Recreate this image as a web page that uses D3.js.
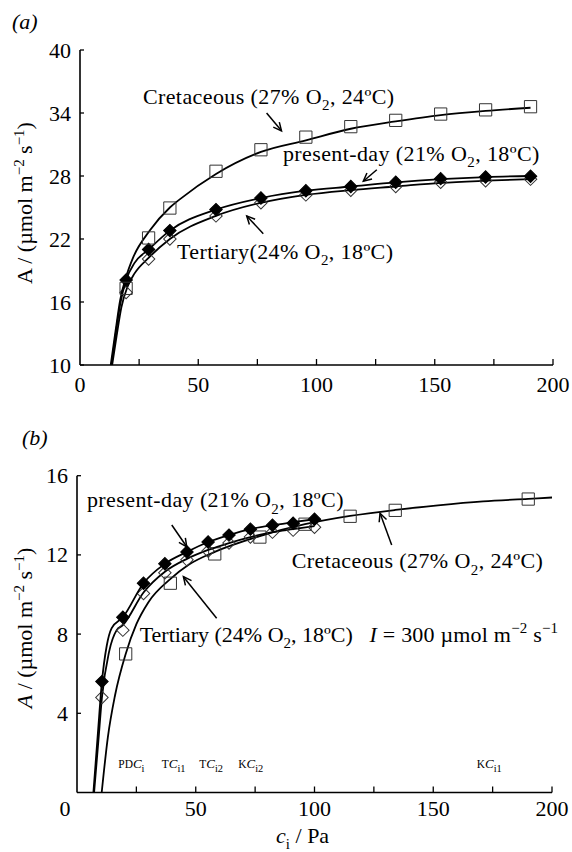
<!DOCTYPE html>
<html>
<head>
<meta charset="utf-8">
<script src="https://cdn.jsdelivr.net/npm/d3@7"></script>
<style>
  html, body { margin: 0; padding: 0; background: #fff; }
  svg { display: block; font-family: "Liberation Serif", "Times New Roman", serif; }
</style>
</head>
<body>
<svg id="chart" width="572" height="852"></svg>
<script>
/* ── data ─────────────────────────────────────────────────────────── */
// panel (a): A vs ci, I saturating
const xPtsA        = [19.5, 29, 38, 57.5, 76.5, 95.5, 114.5, 133.5, 152.5, 171.5, 190.5];
const cretPtsA     = [17.3, 22.1, 24.95, 28.45, 30.5, 31.7, 32.7, 33.3, 33.9, 34.3, 34.6];
const presentPtsA  = [18.1, 21.0, 22.8, 24.8, 25.9, 26.6, 27.0, 27.4, 27.75, 27.9, 27.97];
const tertPtsA     = [16.9, 20.1, 22.0, 24.2, 25.45, 26.2, 26.65, 27.0, 27.4, 27.55, 27.7];

// fitted model curves, panel (a)  [ci, A]
const cretCurveA = [[13.0,10],[15,13.2],[17,16.2],[19.5,18.4],[22.4,20.2],[29.5,22.8],[38,25.0],[42.3,25.8],
  [57.5,28.2],[76.5,30.3],[95.5,31.4],[114.5,32.5],[133.5,33.2],[152.5,33.8],[171.5,34.2],[190.5,34.5]];
const presentCurveA = [[13.3,10],[15,12.8],[17,15.8],[19.5,18.1],[23,19.7],[29,21.0],[38,22.8],[57.5,24.8],
  [76.5,25.9],[95.5,26.6],[114.5,27.0],[133.5,27.4],[152.5,27.7],[171.5,27.9],[190.5,28.0]];
const tertCurveA = [[13.6,10],[15.5,12.8],[17.5,15.5],[20,17.4],[23,18.7],[29,20.2],[38,22.0],[57.5,24.2],
  [76.5,25.45],[95.5,26.2],[114.5,26.65],[133.5,27.0],[152.5,27.35],[171.5,27.55],[190.5,27.7]];

// panel (b): I = 300
const xPtsB       = [10.5, 19.3, 28, 37, 46.3, 55.2, 64, 73, 82.3, 91, 100];
const presentPtsB = [5.6, 8.85, 10.57, 11.55, 12.15, 12.65, 13.0, 13.3, 13.5, 13.6, 13.8];
const tertPtsB    = [4.8, 8.2, 10.05, 11.1, 11.75, 12.2, 12.6, 12.9, 13.15, 13.25, 13.4];
const xCretB      = [20.5, 39.3, 58, 77, 96, 115, 134, 190];
const cretPtsB    = [7.0, 10.57, 12.05, 12.9, 13.55, 13.95, 14.25, 14.82];

const presentCurveB = [[6.9,0],[8.8,3],[10.5,5.6],[12.5,7.4],[14.6,8.3],[19.3,8.85],[28,10.57],[37,11.55],
  [46.3,12.15],[55.2,12.65],[64,13.0],[73,13.3],[82.3,13.5],[91,13.65],[100,13.8]];
const tertCurveB = [[7.2,0],[9,2.6],[10.5,4.8],[13.5,7.1],[16.7,8.2],[19.3,8.45],[28,10.1],[37,11.15],
  [46.3,11.8],[55.2,12.25],[64,12.6],[73,12.9],[82.3,13.15],[91,13.3],[100,13.45]];
const cretCurveB = [[10.4,0],[13,2.8],[16,4.9],[20.5,7.0],[25,8.5],[30,9.6],[39.5,10.8],[47,11.5],[58,12.15],
  [77,12.95],[96,13.55],[115,13.97],[134,14.27],[152,14.5],[171,14.7],[190,14.83],[200,14.9]];

const xTicks      = [0, 50, 100, 150, 200];
const xMinorTicks = [25, 50, 75, 100, 125, 150, 175, 200];
const yTicksA     = [10, 16, 22, 28, 34, 40];
const yTicksB     = [4, 8, 12, 16];

/* ── helpers ─────────────────────────────────────────────────────── */
const svg = d3.select('#chart');
const FS = 22;

// text built from parts: {t, sub, sup, it, sc}
function rich(g, x, y, parts, size, anchor, ls) {
  const t = g.append('text').attr('x', x).attr('y', y)
    .attr('font-size', size).attr('fill', '#000')
    .attr('letter-spacing', ls || 0)
    .attr('text-anchor', anchor || 'start');
  let shift = 0;
  parts.forEach(p => {
    const s = p.sub ? size * 0.28 : p.sup ? -size * 0.38 : 0;
    const ts = t.append('tspan').attr('dy', s - shift).text(p.t);
    if (p.sub || p.sup) ts.attr('font-size', size * (p.sub && p.small ? 0.8 : 0.68));
    if (p.sc) ts.attr('font-size', size * 0.88);
    if (p.it) ts.attr('font-style', 'italic');
    shift = s;
  });
  return t;
}

function arrow(g, x1, y1, x2, y2) {
  g.append('line').attr('x1', x1).attr('y1', y1).attr('x2', x2).attr('y2', y2)
    .attr('stroke', '#000').attr('stroke-width', 1.5);
  const a = Math.atan2(y2 - y1, x2 - x1), L = 9, w = 0.45;
  g.append('path')
    .attr('d', `M${x2 - L * Math.cos(a - w)},${y2 - L * Math.sin(a - w)}L${x2},${y2}L${x2 - L * Math.cos(a + w)},${y2 - L * Math.sin(a + w)}`)
    .attr('fill', 'none').attr('stroke', '#000').attr('stroke-width', 1.5);
}

function axes(g, x, y, yTicks, xLabelDy, zeroShift) {
  const [x0] = x.range(), y0 = y.range()[0];
  g.append('line').attr('x1', x0).attr('x2', x.range()[1]).attr('y1', y0).attr('y2', y0)
    .attr('stroke', '#000').attr('stroke-width', 1.6);
  g.append('line').attr('x1', x0).attr('x2', x0).attr('y1', y0).attr('y2', y.range()[1])
    .attr('stroke', '#000').attr('stroke-width', 1.6);
  g.selectAll('.xt').data(xMinorTicks).join('line')
    .attr('x1', d => x(d)).attr('x2', d => x(d)).attr('y1', y0).attr('y2', y0 - 6)
    .attr('stroke', '#000').attr('stroke-width', 1.3);
  g.selectAll('.yt').data(yTicks).join('line')
    .attr('x1', x0).attr('x2', x0 + 4).attr('y1', d => y(d)).attr('y2', d => y(d))
    .attr('stroke', '#000').attr('stroke-width', 1.3);
  g.selectAll('.xl').data(xTicks).join('text')
    .attr('x', d => d === 0 ? x(d) - zeroShift : x(d)).attr('y', y0 + xLabelDy)
    .attr('text-anchor', 'middle').attr('font-size', FS).text(d => d);
  g.selectAll('.yl').data(yTicks).join('text')
    .attr('x', x0 - 9).attr('y', d => y(d) + 7.5)
    .attr('text-anchor', 'end').attr('font-size', FS).text(d => d);
}

function series(g, x, y, curve, xs, ys, kind) {
  const line = d3.line().x(d => x(d[0])).y(d => y(d[1])).curve(d3.curveMonotoneX);
  g.append('path').datum(curve).attr('d', line)
    .attr('fill', 'none').attr('stroke', '#000').attr('stroke-width', 1.8)
    .attr('clip-path', `url(#${kind.clip})`);
  const sym = kind.shape === 'square'
    ? d3.symbol(d3.symbolSquare, 150) : d3.symbol(d3.symbolSquare, 78);
  g.selectAll(null).data(xs.map((v, i) => [v, ys[i]])).join('path')
    .attr('d', sym)
    .attr('transform', d => `translate(${x(d[0])},${y(d[1])})` + (kind.shape === 'square' ? '' : ' rotate(45)'))
    .attr('fill', kind.filled ? '#000' : '#fff')
    .attr('fill-opacity', kind.filled ? 1 : 0)
    .attr('stroke', kind.filled ? '#000' : '#333').attr('stroke-width', 1);
}

function clipRect(id, x, y) {
  svg.append('clipPath').attr('id', id).append('rect')
    .attr('x', x.range()[0]).attr('y', y.range()[1] - 5)
    .attr('width', x.range()[1] - x.range()[0] + 5).attr('height', y.range()[0] - y.range()[1] + 5);
}

const O2 = (pre, post) => [{ t: pre + 'O' }, { t: '2', sub: true }, { t: post }];
const unitsY = it => [{ t: 'A', it: it }, { t: ' / (µmol m' }, { t: '−2', sup: true }, { t: ' s' }, { t: '−1', sup: true }, { t: ')' }];
const LS = 0.4;

/* ── panel (a) ──────────────────────────────────────────────────── */
const xA = d3.scaleLinear().domain([0, 200]).range([80, 553]);
const yA = d3.scaleLinear().domain([10, 40]).range([365, 50]);
const gA = svg.append('g');
clipRect('clipA', xA, yA);
axes(gA, xA, yA, yTicksA, 27, 0);

series(gA, xA, yA, tertCurveA, xPtsA, tertPtsA, { shape: 'diamond', filled: false, clip: 'clipA' });
series(gA, xA, yA, presentCurveA, xPtsA, presentPtsA, { shape: 'diamond', filled: true, clip: 'clipA' });
series(gA, xA, yA, cretCurveA, xPtsA, cretPtsA, { shape: 'square', filled: false, clip: 'clipA' });

rich(gA, 12, 29, [{ t: '(a)', it: true }], FS);
rich(gA, 0, 0, unitsY(false), FS, 'middle').attr('transform', 'translate(32,203) rotate(-90)');

rich(gA, xA(26.6), yA(34.9), O2('Cretaceous (27% ', ', 24ºC)'), FS, 'start', LS);
arrow(gA, xA(78.9), yA(34.0), xA(85.2), yA(32.3));
rich(gA, xA(85.8), yA(29.4), O2('present-day (21% ', ', 18ºC)'), FS, 'start', LS);
arrow(gA, xA(125.5), yA(28.6), xA(119.8), yA(27.5));
rich(gA, xA(41.0), yA(20.1), O2('Tertiary(24% ', ', 18ºC)'), FS, 'start', LS);
arrow(gA, xA(77.5), yA(22.5), xA(70.5), yA(24.2));

/* ── panel (b) ──────────────────────────────────────────────────── */
const xB = d3.scaleLinear().domain([0, 200]).range([77, 552]);
const yB = d3.scaleLinear().domain([0, 16]).range([792.5, 475.7]);
const gB = svg.append('g');
clipRect('clipB', xB, yB);
axes(gB, xB, yB, yTicksB, 23, 12);

series(gB, xB, yB, cretCurveB, xCretB, cretPtsB, { shape: 'square', filled: false, clip: 'clipB' });
series(gB, xB, yB, tertCurveB, xPtsB, tertPtsB, { shape: 'diamond', filled: false, clip: 'clipB' });
series(gB, xB, yB, presentCurveB, xPtsB, presentPtsB, { shape: 'diamond', filled: true, clip: 'clipB' });

rich(gB, 22, 445, [{ t: '(b)', it: true }], FS);
rich(gB, 0, 0, unitsY(true), FS, 'middle').attr('transform', 'translate(32,628) rotate(-90)');
rich(gB, xB(95), 843, [{ t: 'c', it: true }, { t: 'i', sub: true }, { t: ' / Pa' }], FS, 'middle');

rich(gB, xB(4.2), yB(14.4), O2('present-day (21% ', ', 18ºC)'), FS, 'start', LS);
arrow(gB, xB(39.9), yB(13.51), xB(46.2), yB(12.41));
rich(gB, xB(26.4), yB(7.62), O2('Tertiary (24% ', ', 18ºC)'), FS, 'start');
arrow(gB, xB(58.8), yB(8.8), xB(44.8), yB(10.9));
rich(gB, xB(123.2), yB(7.62), [{ t: 'I', it: true }, { t: ' = 300 µmol m' }, { t: '−2', sup: true }, { t: ' s' }, { t: '−1', sup: true }], FS, 'start', 0.2);
rich(gB, xB(90.4), yB(11.32), O2('Cretaceous (27% ', ', 24ºC)'), FS, 'start', LS);
arrow(gB, xB(132.5), yB(12.5), xB(127.6), yB(14.1));

// ci markers along the axis
const ciMarks = [
  [17.4, 'PD', 'i'], [35.7, 'T', 'i1'], [51.5, 'T', 'i2'], [67.9, 'K', 'i2'], [168.3, 'K', 'i1']
];
ciMarks.forEach(([v, pre, sub]) => {
  rich(gB, xB(v), yB(1.24), [{ t: pre, sc: true }, { t: 'C', it: true }, { t: sub, sub: true, small: true }], 13);
});
</script>
</body>
</html>
